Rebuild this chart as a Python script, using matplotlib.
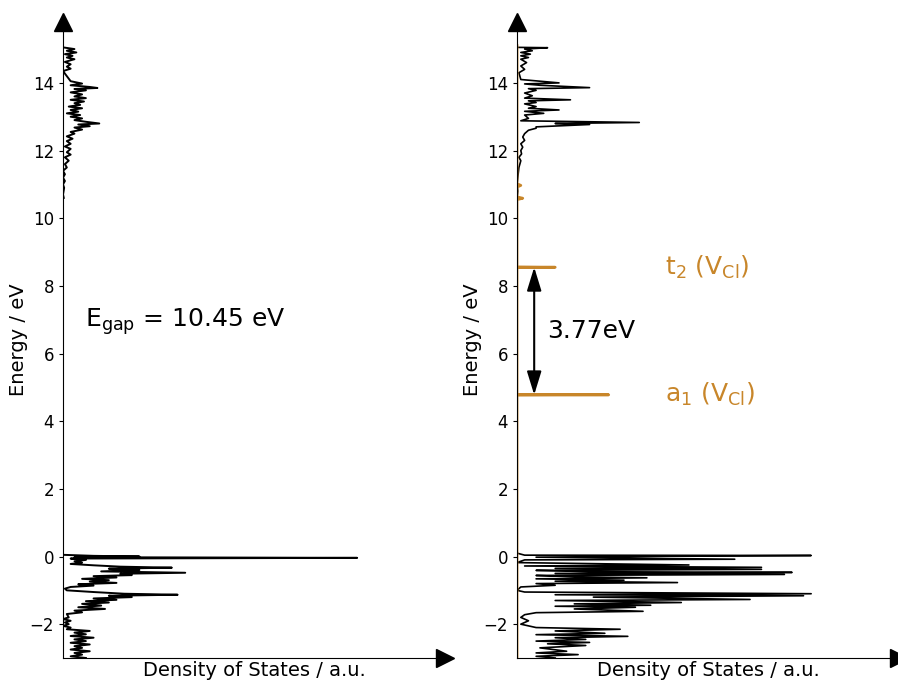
import numpy as np
import matplotlib.pyplot as plt

ORANGE = '#c8862a'

# bulk DOS (energy in eV, DOS in a.u.)
bulk_E = [15.05, 15.0, 14.95, 14.9, 14.85, 14.8, 14.75, 14.7, 14.62, 14.55, 14.48, 14.42, 14.35,
          14.2, 14.05, 13.98, 13.93, 13.88, 13.85, 13.82, 13.78, 13.72, 13.66, 13.6, 13.55, 13.5,
          13.45, 13.4, 13.35, 13.3, 13.25, 13.2, 13.15, 13.1, 13.05, 13.0, 12.95, 12.9, 12.85,
          12.8, 12.77, 12.72, 12.68, 12.62, 12.55, 12.5, 12.42, 12.35, 12.28, 12.2, 12.12, 12.05,
          11.95, 11.88, 11.8, 11.7, 11.6, 11.5, 11.4, 11.3, 11.2, 11.1, 11.0, 10.9, 10.7, 10.6,
          0.05, 0.02, 0.0, -0.02, -0.04, -0.06, -0.1, -0.14, -0.18, -0.22, -0.26, -0.3, -0.33,
          -0.36, -0.4, -0.44, -0.48, -0.51, -0.55, -0.58, -0.62, -0.66, -0.7, -0.74, -0.78, -0.82,
          -0.86, -0.9, -0.95, -1.0, -1.05, -1.1, -1.13, -1.16, -1.2, -1.24, -1.28, -1.32, -1.36,
          -1.4, -1.45, -1.5, -1.55, -1.6, -1.65, -1.7, -1.8, -1.85, -1.9, -1.95, -2.0, -2.05,
          -2.1, -2.15, -2.2, -2.25, -2.3, -2.35, -2.4, -2.45, -2.5, -2.55, -2.6, -2.65, -2.7,
          -2.75, -2.8, -2.85, -2.9, -2.95, -3.0]
bulk_dos = [0.0, 0.03, 0.01, 0.035, 0.005, 0.025, 0.01, 0.03, 0.005, 0.02, 0.01, 0.02, 0.0,
            0.01, 0.02, 0.05, 0.02, 0.07, 0.09, 0.03, 0.06, 0.02, 0.05, 0.03, 0.06, 0.02,
            0.055, 0.03, 0.045, 0.015, 0.05, 0.02, 0.04, 0.01, 0.045, 0.02, 0.05, 0.03, 0.06,
            0.095, 0.04, 0.07, 0.03, 0.05, 0.02, 0.03, 0.01, 0.025, 0.01, 0.02, 0.005, 0.02,
            0.01, 0.02, 0.005, 0.015, 0.005, 0.01, 0.0, 0.005, 0.0, 0.005, 0.0, 0.003, 0.0, 0.002,
            0.0, 0.08, 0.2, 0.03, 0.77, 0.02, 0.06, 0.03, 0.05, 0.02, 0.08, 0.15, 0.285,
            0.12, 0.2, 0.1, 0.32, 0.15, 0.18, 0.08, 0.14, 0.05, 0.12, 0.07, 0.14, 0.04,
            0.08, 0.02, 0.005, 0.01, 0.08, 0.16, 0.3, 0.12, 0.18, 0.08, 0.14, 0.06, 0.12,
            0.05, 0.1, 0.04, 0.11, 0.03, 0.05, 0.01, 0.015, 0.0, 0.02, 0.005, 0.015, 0.0,
            0.02, 0.01, 0.07, 0.03, 0.06, 0.02, 0.08, 0.03, 0.06, 0.02, 0.07, 0.03, 0.05,
            0.02, 0.07, 0.03, 0.05, 0.02, 0.06]

# supercell with Cl vacancy
vac_E = [15.05, 15.04, 15.0, 14.95, 14.9, 14.85, 14.8, 14.75, 14.7, 14.6, 14.5, 14.4, 14.3,
         14.1, 14.0, 13.97, 13.93, 13.86, 13.83, 13.78, 13.7, 13.62, 13.55, 13.5, 13.47, 13.42,
         13.38, 13.3, 13.25, 13.2, 13.16, 13.1, 13.05, 12.95, 12.88, 12.83, 12.8, 12.77, 12.73,
         12.7, 12.66, 12.6, 12.5, 12.4, 12.3, 12.2, 12.1, 12.0, 11.9, 11.8, 11.7, 11.5, 11.3,
         11.0, 10.8, 10.6,
         0.1, 0.04, 0.03, 0.01, -0.02, -0.08, -0.1, -0.18, -0.25, -0.28, -0.32, -0.35, -0.38,
         -0.41, -0.45, -0.47, -0.5, -0.53, -0.56, -0.6, -0.63, -0.66, -0.7, -0.73, -0.77, -0.8,
         -0.85, -0.9, -1.0, -1.05, -1.1, -1.13, -1.16, -1.2, -1.27, -1.3, -1.36, -1.4, -1.44,
         -1.47, -1.5, -1.55, -1.62, -1.66, -1.72, -1.8, -1.9, -2.0, -2.1, -2.15, -2.2, -2.27,
         -2.31, -2.36, -2.4, -2.45, -2.5, -2.54, -2.58, -2.63, -2.7, -2.8, -2.85, -2.9, -2.95,
         -3.0]
vac_dos = [0.0, 0.08, 0.02, 0.04, 0.01, 0.035, 0.01, 0.03, 0.01, 0.025, 0.01, 0.02, 0.005,
           0.01, 0.11, 0.02, 0.06, 0.19, 0.03, 0.05, 0.02, 0.04, 0.02, 0.14, 0.03, 0.05,
           0.02, 0.05, 0.03, 0.11, 0.02, 0.07, 0.02, 0.03, 0.01, 0.32, 0.1, 0.19, 0.11,
           0.05, 0.05, 0.03, 0.02, 0.015, 0.02, 0.01, 0.015, 0.01, 0.012, 0.005, 0.01, 0.005, 0.003,
           0.0, 0.002, 0.0,
           0.0, 0.02, 0.77, 0.4, 0.05, 0.57, 0.02, 0.0, 0.45, 0.02, 0.64, 0.1, 0.64,
           0.05, 0.2, 0.72, 0.1, 0.7, 0.05, 0.15, 0.34, 0.05, 0.28, 0.1, 0.42, 0.05,
           0.1, 0.01, 0.0, 0.02, 0.77, 0.1, 0.75, 0.2, 0.61, 0.1, 0.43, 0.15, 0.35,
           0.1, 0.31, 0.15, 0.33, 0.05, 0.02, 0.01, 0.03, 0.01, 0.05, 0.27, 0.1, 0.23,
           0.05, 0.29, 0.1, 0.18, 0.05, 0.19, 0.08, 0.18, 0.06, 0.13, 0.05, 0.16, 0.05,
           0.1]

# vacancy-projected states
def_E = [-3.0, 4.77, 4.78, 4.79, 8.54, 8.55, 8.56, 10.55, 10.59, 10.63, 10.92, 10.97, 11.02, 15.1]
def_dos = [0.0, 0.0, 0.24, 0.0, 0.0, 0.1, 0.0, 0.0, 0.015, 0.0, 0.0, 0.01, 0.0, 0.0]

a1_level = 4.78
t2_level = 8.55
E_gap = 10.45

fig = plt.figure(figsize=(8.98, 6.8), dpi=100)
ax1 = fig.add_axes([63 / 898, 22 / 680, 382 / 898, 636 / 680])
ax2 = fig.add_axes([517 / 898, 22 / 680, 382 / 898, 636 / 680])


def style(ax):
    ax.set_xlim(0, 1)
    ax.set_ylim(-3, 15.8)
    ax.spines['top'].set_visible(False)
    ax.spines['right'].set_visible(False)
    ax.set_xticks([])
    ax.set_yticks(np.arange(-2, 15, 2))
    ax.tick_params(axis='y', labelsize=12, length=3)
    # arrow heads on the axes
    ax.plot(1, 0, '>k', ms=13, transform=ax.transAxes, clip_on=False)
    ax.plot(0, 1, '^k', ms=13, transform=ax.transAxes, clip_on=False)
    ax.set_xlabel('Density of States / a.u.', fontsize=14, labelpad=2)
    ax.set_ylabel('Energy / eV', fontsize=14, labelpad=1)


# bulk
ax1.plot(bulk_dos[:66], bulk_E[:66], 'k', lw=1.4)
ax1.plot(bulk_dos[66:], bulk_E[66:], 'k', lw=1.4)
style(ax1)
ax1.text(0.058, 6.93, r'E$_{\rm gap}$ = %.2f eV' % E_gap, fontsize=18, va='center')

# vacancy
ax2.plot(vac_dos[:56], vac_E[:56], 'k', lw=1.2)
ax2.plot(vac_dos[56:], vac_E[56:], 'k', lw=1.2)
ax2.plot(def_dos, def_E, color=ORANGE, lw=2)
style(ax2)
ax2.annotate('', xy=(0.045, a1_level), xytext=(0.045, t2_level),
             arrowprops=dict(arrowstyle='<|-|>,head_length=0.65,head_width=0.2', color='k',
                             lw=1.5, mutation_scale=22, shrinkA=0, shrinkB=0))
ax2.text(0.079, (a1_level + t2_level) / 2, '%.2feV' % (t2_level - a1_level), fontsize=18,
         va='center')
ax2.text(0.387, t2_level, r't$_2$ (V$_{\rm Cl}$)', fontsize=18, color=ORANGE, va='center')
ax2.text(0.387, a1_level, r'a$_1$ (V$_{\rm Cl}$)', fontsize=18, color=ORANGE, va='center')

fig.savefig('out.png', dpi=100)
